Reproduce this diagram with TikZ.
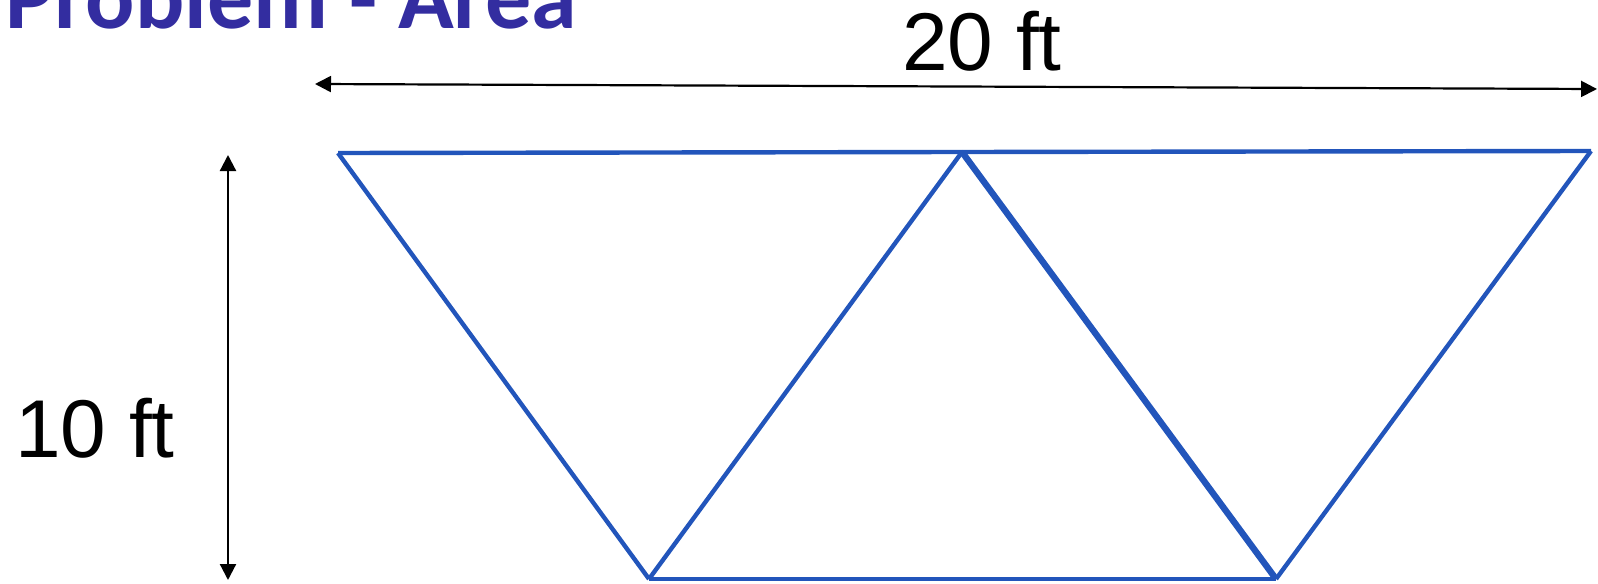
\documentclass[tikz,border=0pt]{standalone}
\usepackage{fontspec}
\setmainfont{Liberation Sans}
\newfontfamily\titlefont{Carlito}
\usetikzlibrary{arrows.meta,positioning}
\definecolor{titleblue}{RGB}{51,45,160}
\definecolor{lineblue}{RGB}{34,85,187}
\begin{document}
\begin{tikzpicture}[x=0.5pt,y=-0.5pt,
  dim/.style={draw=black,line width=1.1pt,{Triangle[length=8pt,width=8pt]}-{Triangle[length=8pt,width=8pt]}},
  edge/.style={draw=lineblue,line width=2.2pt,line join=round},
  lbl/.style={inner sep=0pt,font=\fontsize{41}{48}\selectfont}]
\useasboundingbox (0,0) rectangle (1598,583);
\node[anchor=base west,inner sep=0pt,text=titleblue,font=\titlefont\bfseries\fontsize{46}{54}\selectfont] (title) at (5,29) {Problem - Area};
% dimension arrows
\coordinate (wl) at (315,84); \coordinate (wr) at (1597,89);
\coordinate (ht) at (228,155); \coordinate (hb) at (228,580);
\draw[dim] (wl)--(wr); \draw[dim] (ht)--(hb);
\node[lbl,anchor=base] (wid) at (982,71) {20 ft};
\node[lbl,anchor=base] (hgt) at (95,457) {10 ft};
% triangles
\coordinate (tl) at (338,153); \coordinate (tm) at (962,152); \coordinate (tr) at (1591,151);
\coordinate (bl) at (649,579); \coordinate (br) at (1276,579);
\draw[edge] (tl)--(tm); \draw[edge] (tm)--(tr);
\draw[edge] (tl)--(bl); \draw[edge] (bl)--(tm);
\draw[edge,line width=3.2pt] (tm)--(br); \draw[edge] (br)--(tr);
\draw[edge] (bl)--(br);
\end{tikzpicture}
\end{document}
